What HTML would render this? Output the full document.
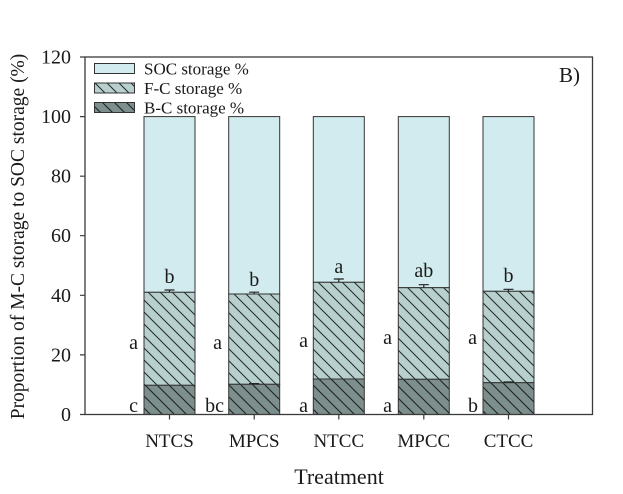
<!DOCTYPE html>
<html>
<head>
<meta charset="utf-8">
<style>
  html,body{margin:0;padding:0;background:#fff;}
  svg{display:block;}
  text{font-family:"Liberation Serif","Times New Roman",serif;fill:#1a1a1a;}
</style>
</head>
<body>
<svg width="623" height="494" viewBox="0 0 623 494" xmlns="http://www.w3.org/2000/svg">
  <defs>
    <pattern id="hF" patternUnits="userSpaceOnUse" width="12" height="12">
      <rect x="0" y="0" width="12" height="12" fill="#b7cfcd"/>
      <path d="M0,0 L12,12 M-2,10 L2,14 M10,-2 L14,2" stroke="#263130" stroke-width="1.1"/>
    </pattern>
    <pattern id="hB" patternUnits="userSpaceOnUse" width="12" height="12">
      <rect x="0" y="0" width="12" height="12" fill="#7d8f8d"/>
      <path d="M0,0 L12,12 M-2,10 L2,14 M10,-2 L14,2" stroke="#1c2322" stroke-width="1.1"/>
    </pattern>
  </defs>

  <!-- Legend -->
  <rect x="94.5" y="63.5" width="40" height="10" fill="#d2ebee" stroke="#333" stroke-width="1"/>
  <rect x="94.5" y="83" width="40" height="10" fill="url(#hF)" stroke="#333" stroke-width="1"/>
  <rect x="94.5" y="102.5" width="40" height="10" fill="url(#hB)" stroke="#333" stroke-width="1"/>
  <text x="144" y="74.5" font-size="17">SOC storage %</text>
  <text x="144" y="94" font-size="17">F-C storage %</text>
  <text x="144" y="113.5" font-size="17">B-C storage %</text>

  <!-- Bars -->
  <g stroke="#333" stroke-width="1">
    <rect x="144" y="116.6" width="51" height="175.7" fill="#d2ebee"/>
    <rect x="144" y="292.3" width="51" height="93" fill="url(#hF)"/>
    <rect x="144" y="385.3" width="51" height="29.2" fill="url(#hB)"/>
    <rect x="228.7" y="116.6" width="51" height="177.4" fill="#d2ebee"/>
    <rect x="228.7" y="294" width="51" height="90.3" fill="url(#hF)"/>
    <rect x="228.7" y="384.3" width="51" height="30.2" fill="url(#hB)"/>
    <rect x="313.3" y="116.6" width="51" height="165.7" fill="#d2ebee"/>
    <rect x="313.3" y="282.3" width="51" height="96.7" fill="url(#hF)"/>
    <rect x="313.3" y="379" width="51" height="35.5" fill="url(#hB)"/>
    <rect x="398.3" y="116.6" width="51" height="171.1" fill="#d2ebee"/>
    <rect x="398.3" y="287.7" width="51" height="91.6" fill="url(#hF)"/>
    <rect x="398.3" y="379.3" width="51" height="35.2" fill="url(#hB)"/>
    <rect x="483" y="116.6" width="51" height="174.7" fill="#d2ebee"/>
    <rect x="483" y="291.3" width="51" height="91.4" fill="url(#hF)"/>
    <rect x="483" y="382.7" width="51" height="31.8" fill="url(#hB)"/>
  </g>

  <!-- Error bars -->
  <g stroke="#222" stroke-width="1.2" fill="none">
    <path d="M169.5,292.3 V290 M164.5,290 H174.5"/>
    <path d="M254.2,294 V292.2 M249.2,292.2 H259.2"/>
    <path d="M338.8,282.3 V279 M333.8,279 H343.8"/>
    <path d="M423.8,287.7 V284.7 M418.8,284.7 H428.8"/>
    <path d="M508.5,291.3 V289.3 M503.5,289.3 H513.5"/>
    <path d="M508.5,382.7 V382 M503.5,382 H513.5"/>
    <path d="M254.2,384.3 V383.6 M249.2,383.6 H259.2"/>
  </g>

  <!-- Significance letters -->
  <g font-size="20">
    <text x="169.5" y="283" text-anchor="middle">b</text>
    <text x="138" y="349" text-anchor="end">a</text>
    <text x="138" y="412" text-anchor="end">c</text>

    <text x="254.2" y="286" text-anchor="middle">b</text>
    <text x="222" y="349" text-anchor="end">a</text>
    <text x="224" y="412" text-anchor="end">bc</text>

    <text x="338.8" y="273" text-anchor="middle">a</text>
    <text x="308" y="347" text-anchor="end">a</text>
    <text x="308" y="412" text-anchor="end">a</text>

    <text x="423.8" y="277" text-anchor="middle">ab</text>
    <text x="392" y="344" text-anchor="end">a</text>
    <text x="392" y="412" text-anchor="end">a</text>

    <text x="508.5" y="282" text-anchor="middle">b</text>
    <text x="477" y="344" text-anchor="end">a</text>
    <text x="478" y="412" text-anchor="end">b</text>
  </g>

  <!-- Axes frame -->
  <rect x="85" y="57" width="507.5" height="357.5" fill="none" stroke="#3a3a3a" stroke-width="1.3"/>

  <!-- Ticks -->
  <g stroke="#3a3a3a" stroke-width="1.2">
    <path d="M80,414.5 H85 M80,354.9 H85 M80,295.3 H85 M80,235.7 H85 M80,176.2 H85 M80,116.6 H85 M80,57 H85"/>
    <path d="M169.5,414.5 V419.5 M254.2,414.5 V419.5 M338.8,414.5 V419.5 M423.8,414.5 V419.5 M508.5,414.5 V419.5"/>
  </g>

  <!-- Y tick labels -->
  <g font-size="20" text-anchor="end">
    <text x="71" y="421">0</text>
    <text x="71" y="361.4">20</text>
    <text x="71" y="301.8">40</text>
    <text x="71" y="242.2">60</text>
    <text x="71" y="182.7">80</text>
    <text x="71" y="123.1">100</text>
    <text x="71" y="63.5">120</text>
  </g>

  <!-- X tick labels -->
  <g font-size="19" text-anchor="middle">
    <text x="169.5" y="447">NTCS</text>
    <text x="254.2" y="447">MPCS</text>
    <text x="338.8" y="447">NTCC</text>
    <text x="423.8" y="447">MPCC</text>
    <text x="508.5" y="447">CTCC</text>
  </g>

  <!-- Axis titles -->
  <text x="339" y="484" font-size="22" text-anchor="middle">Treatment</text>
  <text transform="translate(24,236.5) rotate(-90)" font-size="19.5" text-anchor="middle">Proportion of M-C storage to SOC storage (%)</text>

  <!-- Panel label -->
  <text x="559" y="82" font-size="21">B)</text>
</svg>
</body>
</html>
